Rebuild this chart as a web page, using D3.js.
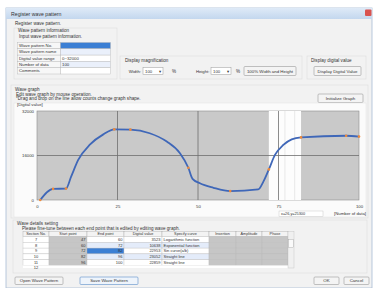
<!DOCTYPE html>
<html>
<head>
<meta charset="utf-8">
<script src="https://cdn.jsdelivr.net/npm/d3@7"></script>
<style>
  body { margin: 0; background: #fff; }
  svg text { font-family: "Liberation Sans", "DejaVu Sans", sans-serif; fill: #333; }
</style>
</head>
<body>
<div id="chart"></div>
<script>
// wave curve (number of data, digital value)
const curveX = [1, 5, 9, 10.6, 12.8, 16.5, 20.6, 24, 29, 35, 40.3, 44.4, 47, 48.3, 50.6, 54.8, 60, 68.7, 70.3, 72, 73.9, 76.5, 79.1, 82, 96, 100];
const curveY = [0, 4000, 4100, 8400, 14400, 20000, 23600, 25400, 25300, 24000, 21000, 16800, 11600, 7600, 6000, 4400, 3200, 3800, 6600, 11000, 16200, 19800, 21800, 22500, 23100, 22800];
// end points (orange markers)
const pointX = [1, 5, 9, 24, 29, 47, 60, 72, 82, 96, 100];
const pointY = [0, 4000, 4100, 25400, 25300, 11600, 3200, 11000, 22500, 23100, 22800];
const xTicks = [0, 25, 50, 75, 100];
const yTicks = [0, 16000, 32000];
const selectedRange = [72, 82];

// wave details table
const sectionNo = [7, 8, 9, 10, 11];
const startPoint = [47, 60, 72, 82, 96];
const endPoint = [60, 72, 82, 96, 100];
const digitalValue = [3523, 10638, 22953, 23052, 22859];
const curveType = ["Logarithmic function", "Exponential function", "Sin curve(a/b)", "Straight line", "Straight line"];
const tableHeaders = ["Section No.", "Start point", "End point", "Digital value", "Specify curve", "Insertion", "Amplitude", "Phase"];

// wave pattern information
const infoLabels = ["Wave pattern No.", "Wave pattern name", "Digital value range", "Number of data", "Comments"];
const infoValues = ["", "", "0~32000", "100", ""];

const W = 373, H = 288;
const svg = d3.select("#chart").append("svg").attr("width", W).attr("height", H);
const defs = svg.append("defs");
const tg = defs.append("linearGradient").attr("id", "title").attr("x1", 0).attr("y1", 0).attr("x2", 0).attr("y2", 1);
tg.append("stop").attr("offset", "0%").attr("stop-color", "#dfeaf7");
tg.append("stop").attr("offset", "100%").attr("stop-color", "#c3d7ee");

// dialog frame
svg.append("rect").attr("x", 6).attr("y", 8).attr("width", 366).attr("height", 280)
  .attr("fill", "#f2f2f2").attr("stroke", "#a9bcd4").attr("stroke-width", 0.8);
svg.append("rect").attr("x", 6).attr("y", 8).attr("width", 366).attr("height", 11).attr("fill", "url(#title)");
svg.append("text").attr("x", 11).attr("y", 15.5).attr("font-size", 5.2).text("Register wave pattern");
svg.append("rect").attr("x", 365).attr("y", 9.5).attr("width", 6.5).attr("height", 6.5).attr("rx", 1).attr("fill", "#d9534f");

const label = (x, y, t, size = 4.6, anchor = "start") =>
  svg.append("text").attr("x", x).attr("y", y).attr("font-size", size).attr("text-anchor", anchor).text(t);

const button = (x, y, w, h, t, hl) => {
  svg.append("rect").attr("x", x).attr("y", y).attr("width", w).attr("height", h).attr("rx", 1)
    .attr("fill", hl ? "#eef4fb" : "#f4f4f4").attr("stroke", hl ? "#5b8fc9" : "#9a9a9a").attr("stroke-width", 0.6);
  label(x + w / 2, y + h / 2 + 1.6, t, 4.4, "middle");
};

const groupBox = (x, y, w, h) =>
  svg.append("rect").attr("x", x).attr("y", y).attr("width", w).attr("height", h)
    .attr("fill", "none").attr("stroke", "#dcdcdc").attr("stroke-width", 0.6);

label(15, 25, "Register wave pattern.");

// wave pattern information
groupBox(14, 28, 103, 51);
label(18, 31.5, "Wave pattern information");
label(19, 37.5, "Input wave pattern information.");
const rowH = 6.3, infoTop = 42.5;
infoLabels.forEach((t, i) => {
  const y = infoTop + i * rowH;
  svg.append("rect").attr("x", 17.5).attr("y", y).attr("width", 43).attr("height", rowH)
    .attr("fill", "#f7f7f7").attr("stroke", "#b5b5b5").attr("stroke-width", 0.4);
  svg.append("rect").attr("x", 60.5).attr("y", y).attr("width", 50).attr("height", rowH)
    .attr("fill", i === 0 ? "#3b7fd4" : (i % 2 ? "#eaf0fb" : "#fff")).attr("stroke", "#b5b5b5").attr("stroke-width", 0.4);
  label(19, y + 4.5, t, 4.3);
  label(62, y + 4.5, infoValues[i], 4.3);
});

// display magnification
groupBox(120, 56, 182, 23);
label(125, 61.5, "Display magnification");
label(141, 73, "Width:", 4.3, "end");
const combo = (x, y) => {
  svg.append("rect").attr("x", x).attr("y", y).attr("width", 20).attr("height", 7)
    .attr("fill", "#fff").attr("stroke", "#9a9a9a").attr("stroke-width", 0.5);
  label(x + 2, y + 5, "100", 4.3);
  label(x + 17, y + 5, "\u25BE", 4.3, "middle");
};
combo(143, 67.5);
label(172, 73, "%");
label(209.5, 73, "Height:", 4.3, "end");
combo(211, 67.5);
label(236, 73, "%");
button(244, 66.5, 52, 9, "100% Width and Height");
groupBox(307, 56, 59, 23);
label(311, 61.5, "Display digital value");
button(314, 66.5, 47, 9, "Display Digital Value");

// wave graph
groupBox(11, 85, 357, 133);
label(15, 90.5, "Wave graph");
label(16, 95.5, "Edit wave graph by mouse operation.");
label(16, 100, "*Drag and drop on the line allow counts change graph shape.");
button(318, 94, 45, 8.5, "Initialize Graph");
svg.append("rect").attr("x", 14).attr("y", 103).attr("width", 352).attr("height", 114)
  .attr("fill", "#fbfbfb").attr("stroke", "#e2e2e2").attr("stroke-width", 0.5);
label(17, 106, "[Digital value]", 4.3);

const x = d3.scaleLinear().domain([0, 100]).range([37, 359]);
const y = d3.scaleLinear().domain([0, 32000]).range([200, 111]);

const plot = svg.append("g");
plot.append("rect").attr("x", x(0)).attr("y", y(32000)).attr("width", x(100) - x(0)).attr("height", y(0) - y(32000))
  .attr("fill", "#c9c9c9").attr("stroke", "#8c8c8c").attr("stroke-width", 0.6);
plot.append("rect").attr("x", x(selectedRange[0])).attr("y", y(32000))
  .attr("width", x(selectedRange[1]) - x(selectedRange[0])).attr("height", y(0) - y(32000)).attr("fill", "#fdfdfd");
[77, 80].forEach(v => plot.append("line").attr("x1", x(v)).attr("x2", x(v)).attr("y1", y(32000)).attr("y2", y(0))
  .attr("stroke", "#ececec").attr("stroke-width", 1.2));

// gridlines
plot.selectAll("line.vg").data(xTicks.slice(1, -1)).join("line").attr("class", "vg")
  .attr("x1", d => x(d)).attr("x2", d => x(d)).attr("y1", y(32000)).attr("y2", y(0))
  .attr("stroke", "#6f6f6f").attr("stroke-width", 0.8);
plot.selectAll("line.hg").data(yTicks.slice(1, -1)).join("line").attr("class", "hg")
  .attr("x1", x(0)).attr("x2", x(100)).attr("y1", d => y(d)).attr("y2", d => y(d))
  .attr("stroke", "#6f6f6f").attr("stroke-width", 0.8);

// axes
const yAxis = svg.append("g").attr("transform", `translate(${x(0)},0)`)
  .call(d3.axisLeft(y).tickValues(yTicks).tickSize(0).tickPadding(3).tickFormat(d3.format("d")));
const xAxis = svg.append("g").attr("transform", `translate(0,${y(0)})`)
  .call(d3.axisBottom(x).tickValues(xTicks).tickSize(0).tickPadding(5));
[xAxis, yAxis].forEach(a => {
  a.select(".domain").remove();
  a.selectAll("text").attr("font-size", 4.3).attr("fill", "#444")
    .style("font-family", "Liberation Sans, DejaVu Sans, sans-serif");
});
label(366, 215, "[Number of data]", 4.3, "end");
svg.append("rect").attr("x", 279).attr("y", 211).attr("width", 44).attr("height", 5.5)
  .attr("fill", "#fff").attr("stroke", "#bdbdbd").attr("stroke-width", 0.4);
label(281, 215.3, "x=26,y=25300", 3.8);

// curve
const pts = curveX.map((d, i) => [d, curveY[i]]);
plot.append("path").datum(pts)
  .attr("d", d3.line().x(d => x(d[0])).y(d => y(d[1])).curve(d3.curveMonotoneX))
  .attr("fill", "none").attr("stroke", "#3f67b8").attr("stroke-width", 1.8);
plot.selectAll("circle").data(pointX.map((d, i) => [d, pointY[i]])).join("circle")
  .attr("cx", d => x(d[0])).attr("cy", d => y(d[1])).attr("r", 1.3).attr("fill", "#ef8a3a");

// wave details setting
groupBox(13, 220, 354, 53);
label(17, 224.5, "Wave details setting");
label(22, 229.5, "Please fine-tune between each end point that is edited by editing wave graph.");

const colX = [23, 49, 87, 124, 162, 209, 236, 262, 288];
const headTop = 231.5, headH = 5, tRowH = 5.8;
tableHeaders.forEach((h, j) => {
  svg.append("rect").attr("x", colX[j]).attr("y", headTop).attr("width", colX[j + 1] - colX[j]).attr("height", headH)
    .attr("fill", "#f3f3f3").attr("stroke", "#a8a8a8").attr("stroke-width", 0.4);
  label((colX[j] + colX[j + 1]) / 2, headTop + 3.8, h, 3.8, "middle");
});
sectionNo.forEach((s, i) => {
  const ry = headTop + headH + i * tRowH;
  const vals = [s, startPoint[i], endPoint[i], digitalValue[i], curveType[i], "", "", ""];
  vals.forEach((v, j) => {
    let fill = i % 2 ? "#e4ecfa" : "#fff";
    if (j === 1 || j >= 5) fill = "#c6c6c6";
    if (j === 0) fill = "#fff";
    if (j === 2 && i === 2) fill = "#3b7fd4";
    svg.append("rect").attr("x", colX[j]).attr("y", ry).attr("width", colX[j + 1] - colX[j]).attr("height", tRowH)
      .attr("fill", fill).attr("stroke", "#b8b8b8").attr("stroke-width", 0.35);
    if (j === 0) label((colX[0] + colX[1]) / 2, ry + 4.3, v, 4, "middle");
    else if (j >= 1 && j <= 3) label(colX[j + 1] - 1.5, ry + 4.3, v, 4, "end").attr("fill", j === 2 && i === 2 ? "#fff" : "#333");
    else if (j === 4) label(colX[j] + 1.5, ry + 4.3, v, 4);
  });
});
const lastY = headTop + headH + sectionNo.length * tRowH;
svg.append("rect").attr("x", colX[0]).attr("y", lastY).attr("width", colX[8] - colX[0]).attr("height", 2.5).attr("fill", "#fff");
label((colX[0] + colX[1]) / 2, lastY + 3, "12", 4, "middle");
svg.append("rect").attr("x", 288).attr("y", headTop).attr("width", 6).attr("height", lastY + 2.5 - headTop)
  .attr("fill", "#f0f0f0").attr("stroke", "#b8b8b8").attr("stroke-width", 0.35);
svg.append("rect").attr("x", 288.8).attr("y", headTop + 8).attr("width", 4.4).attr("height", 8)
  .attr("fill", "#fafafa").attr("stroke", "#999").attr("stroke-width", 0.35);

// bottom buttons
button(15, 277, 48, 7.5, "Open Wave Pattern");
button(80, 277, 58, 7.5, "Save Wave Pattern", true);
button(314, 277, 25, 7.5, "OK");
button(344, 277, 25, 7.5, "Cancel");
</script>
</body>
</html>
